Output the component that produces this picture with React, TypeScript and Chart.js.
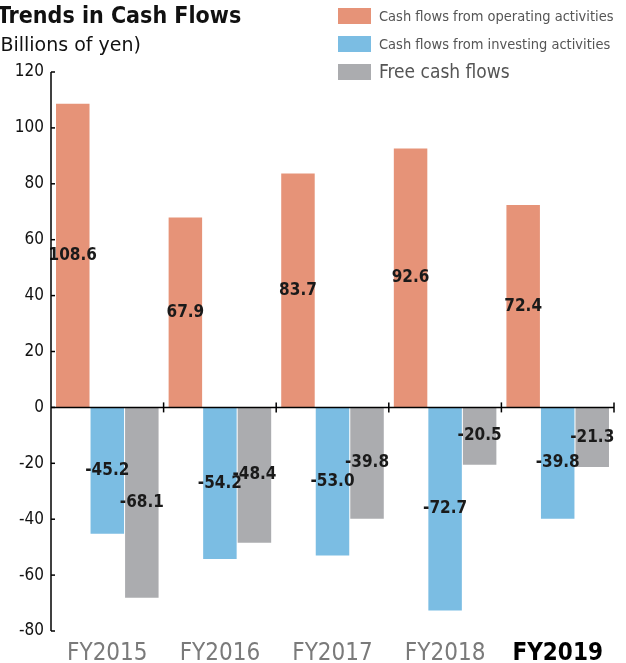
import React, { useEffect, useRef } from "react";
import { Chart, registerables } from "chart.js";

Chart.register(...registerables);

const categories = ["FY2015", "FY2016", "FY2017", "FY2018", "FY2019"];
const operating = [108.6, 67.9, 83.7, 92.6, 72.4];
const investing = [-45.2, -54.2, -53.0, -72.7, -39.8];
const freeCash = [-68.1, -48.4, -39.8, -20.5, -21.3];
const seriesNames = [
  "Cash flows from operating activities",
  "Cash flows from investing activities",
  "Free cash flows",
];
const colors = ["#E69378", "#7BBDE3", "#ABACAF"];
const yMin = -80;
const yMax = 120;
const yStep = 20;

const FONT = "'DejaVu Sans Condensed', 'Liberation Sans Narrow', 'DejaVu Sans', sans-serif";
const FONT_WIDE = "'DejaVu Sans', sans-serif";

const decorPlugin = {
  id: "decor",
  afterDatasetsDraw(chart: any) {
    const { ctx, chartArea, scales } = chart;
    const y = scales.y;
    const x = scales.x;
    ctx.save();
    // data labels
    ctx.fillStyle = "#1a1a1a";
    ctx.font = `bold 17px ${FONT}`;
    ctx.textAlign = "center";
    ctx.textBaseline = "middle";
    chart.data.datasets.forEach((ds: any, di: number) => {
      const meta = chart.getDatasetMeta(di);
      meta.data.forEach((el: any, i: number) => {
        const v = ds.data[i];
        const cy = (el.y + el.base) / 2;
        ctx.fillText(v.toFixed(1), el.x, cy);
      });
    });
    // axes
    ctx.strokeStyle = "#000";
    ctx.lineWidth = 1.5;
    const left = chartArea.left;
    ctx.beginPath();
    ctx.moveTo(left, chartArea.top);
    ctx.lineTo(left, chartArea.bottom);
    ctx.stroke();
    for (let v = yMin; v <= yMax; v += yStep) {
      const py = y.getPixelForValue(v);
      ctx.beginPath();
      ctx.moveTo(left, py);
      ctx.lineTo(left + 4, py);
      ctx.stroke();
    }
    const y0 = y.getPixelForValue(0);
    ctx.beginPath();
    ctx.moveTo(left, y0);
    ctx.lineTo(chartArea.right, y0);
    ctx.stroke();
    const n = categories.length;
    for (let i = 1; i <= n; i++) {
      const px = (x.getPixelForValue(i - 1) + (i < n ? x.getPixelForValue(i) : 2 * x.getPixelForValue(i - 1) - x.getPixelForValue(i - 2))) / 2;
      ctx.beginPath();
      ctx.moveTo(px, y0 - 5);
      ctx.lineTo(px, y0 + 5);
      ctx.stroke();
    }
    // title
    ctx.textAlign = "left";
    ctx.textBaseline = "alphabetic";
    ctx.fillStyle = "#111";
    ctx.font = `bold 23px ${FONT}`;
    ctx.fillText("Trends in Cash Flows", -3, 23);
    ctx.font = `19px ${FONT_WIDE}`;
    ctx.fillText("(Billions of yen)", -7, 51);
    // legend
    const legendY = [16, 44, 72];
    const legendSize = [14.5, 14.5, 19];
    seriesNames.forEach((name, i) => {
      ctx.fillStyle = colors[i];
      ctx.fillRect(338, legendY[i] - 8, 33, 16);
      ctx.fillStyle = "#555";
      ctx.font = `${legendSize[i]}px ${FONT}`;
      ctx.textBaseline = "middle";
      ctx.fillText(name, 379, legendY[i] + 1);
    });
    ctx.restore();
  },
};

export default function App() {
  const ref = useRef<HTMLCanvasElement>(null);
  useEffect(() => {
    if (!ref.current) return;
    const chart = new Chart(ref.current, {
      type: "bar",
      data: {
        labels: categories,
        datasets: [
          { label: seriesNames[0], data: operating, backgroundColor: colors[0] },
          { label: seriesNames[1], data: investing, backgroundColor: colors[1] },
          { label: seriesNames[2], data: freeCash, backgroundColor: colors[2] },
        ],
      },
      options: {
        animation: false,
        responsive: false,
        maintainAspectRatio: false,
        layout: { padding: { top: 72, right: 12, left: 0, bottom: 0 } },
        datasets: { bar: { categoryPercentage: 0.92, barPercentage: 0.97 } },
        plugins: { legend: { display: false }, tooltip: { enabled: false } },
        scales: {
          x: {
            grid: { display: false, drawTicks: false },
            border: { display: false },
            ticks: {
              padding: 8,
              color: (c: any) => (c.index === 4 ? "#000" : "#7a7a7a"),
              font: (c: any) => ({ family: FONT, size: 24, weight: c.index === 4 ? "bold" : "normal" }),
            },
            afterFit: (s: any) => { s.height = 32; },
          },
          y: {
            min: yMin,
            max: yMax,
            grid: { display: false, drawTicks: false },
            border: { display: false },
            ticks: { stepSize: yStep, padding: 7, color: "#111", font: { family: FONT, size: 17 } },
            afterFit: (s: any) => { s.width = 51; },
          },
        },
      },
      plugins: [decorPlugin],
    });
    return () => chart.destroy();
  }, []);
  return (
    <div style={{ position: "fixed", left: 0, top: 0, width: 626, height: 663, background: "#fff" }}>
      <canvas ref={ref} width={626} height={663} style={{ width: 626, height: 663 }} />
    </div>
  );
}
